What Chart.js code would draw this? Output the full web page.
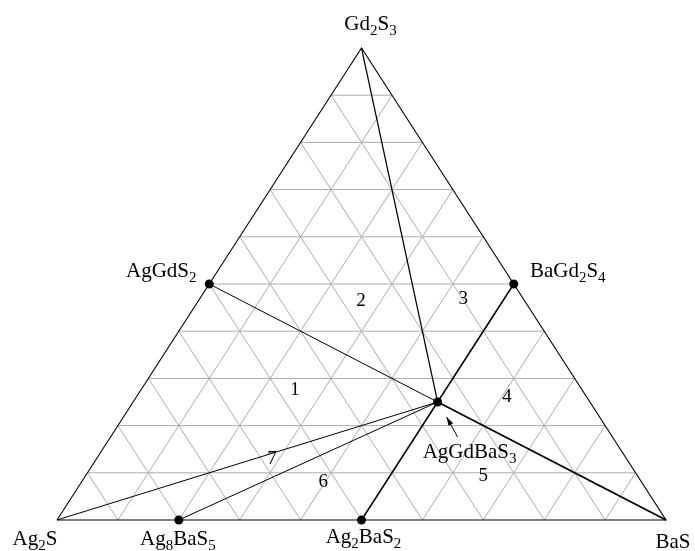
<!DOCTYPE html>
<html>
<head>
<meta charset="utf-8">
<script src="https://cdn.jsdelivr.net/npm/chart.js@4.4.0/dist/chart.umd.min.js"></script>
<style>
  body { margin: 0; background: #fff; }
</style>
</head>
<body>
<canvas id="phaseChart" width="695" height="551"></canvas>
<script>
// phases of the Ag2S - BaS - Gd2S3 system
const phaseNames = ["Ag2S", "BaS", "Gd2S3", "AgGdS2", "BaGd2S4", "Ag8BaS5", "Ag2BaS2", "AgGdBaS3"];
// mole fractions of each corner compound
const phaseAg2S  = [1, 0, 0, 0.5, 0,   0.8, 0.5, 0.25];
const phaseBaS   = [0, 1, 0, 0,   0.5, 0.2, 0.5, 0.5];
const phaseGd2S3 = [0, 0, 1, 0.5, 0.5, 0,   0,   0.25];
// which phases get a dot
const dotPhases = [3, 4, 5, 6, 7];
// tie lines (phase index -> phase index)
const tieFrom = [2, 3, 7, 4, 0, 5];
const tieTo   = [7, 7, 1, 6, 7, 7];
// composition grid
const gridSteps = [0.1, 0.2, 0.3, 0.4, 0.5, 0.6, 0.7, 0.8, 0.9];
// phase field numbers, placed on the plot's unit scales
const fieldNums = ["1", "2", "3", "4", "5", "6", "7"];
const fieldX = [0.391, 0.499, 0.667, 0.739, 0.700, 0.437, 0.353];
const fieldY = [0.275, 0.464, 0.468, 0.261, 0.093, 0.081, 0.129];

// ternary -> plot coords (Ag2S left, BaS right, Gd2S3 top)
function tern(a, b, g) {
  return { x: b + g / 2, y: g };
}
function phasePt(i) {
  return tern(phaseAg2S[i], phaseBaS[i], phaseGd2S3[i]);
}

const datasets = [];

// grey grid lines, parallel to each side
gridSteps.forEach(t => {
  const segs = [
    [tern(1 - t, 0, t), tern(0, 1 - t, t)],   // constant Gd2S3
    [tern(0, t, 1 - t), tern(1 - t, t, 0)],   // constant BaS
    [tern(t, 0, 1 - t), tern(t, 1 - t, 0)]    // constant Ag2S
  ];
  segs.forEach(s => datasets.push({
    type: 'line', data: s, showLine: true, pointRadius: 0,
    borderColor: '#adadad', borderWidth: 1, order: 3
  }));
});

// triangle outline
datasets.push({
  type: 'line', data: [phasePt(0), phasePt(1), phasePt(2), phasePt(0)],
  showLine: true, pointRadius: 0, borderColor: '#000', borderWidth: 1.1, order: 2
});

// tie lines
const tieWidth = [1.2, 1, 1.8, 1.5, 1, 1];
tieFrom.forEach((f, k) => {
  datasets.push({
    type: 'line', data: [phasePt(f), phasePt(tieTo[k])], showLine: true,
    pointRadius: 0, borderColor: '#000', borderWidth: tieWidth[k], order: 1
  });
});

// phase dots
datasets.push({
  type: 'scatter', data: dotPhases.map(phasePt),
  pointRadius: 4.5, pointBackgroundColor: '#000', pointBorderWidth: 0, order: 0
});

// text offsets (px) from each phase point, centre of the label / baseline
const labelDx = [-22, 7, 9, -48, 54, -1, 2, 32];
const labelDy = [25, 28, -18, -7, -7, 25, 23, 56];

function drawFormula(ctx, text, x, y) {
  const parts = text.match(/[A-Za-z]+|\d+/g);
  const big = '21px "Liberation Serif"';
  const small = '15px "Liberation Serif"';
  let w = 0;
  parts.forEach(p => {
    ctx.font = /\d/.test(p) ? small : big;
    w += ctx.measureText(p).width;
  });
  let cx = x - w / 2;
  parts.forEach(p => {
    const sub = /\d/.test(p);
    ctx.font = sub ? small : big;
    ctx.fillText(p, cx, sub ? y + 5 : y);
    cx += ctx.measureText(p).width;
  });
}

const labelPlugin = {
  id: 'labels',
  beforeDraw(chart) {
    const ctx = chart.ctx;
    ctx.save();
    ctx.fillStyle = '#fff';
    ctx.fillRect(0, 0, chart.width, chart.height);
    ctx.restore();
  },
  afterDatasetsDraw(chart) {
    const ctx = chart.ctx;
    const xs = chart.scales.x, ys = chart.scales.y;
    ctx.save();
    ctx.fillStyle = '#000';
    ctx.textAlign = 'left';
    ctx.textBaseline = 'alphabetic';
    phaseNames.forEach((name, i) => {
      const p = phasePt(i);
      drawFormula(ctx, name, xs.getPixelForValue(p.x) + labelDx[i], ys.getPixelForValue(p.y) + labelDy[i]);
    });

    ctx.font = '19px "Liberation Serif"';
    ctx.textAlign = 'center';
    ctx.textBaseline = 'middle';
    fieldNums.forEach((n, i) => {
      ctx.fillText(n, xs.getPixelForValue(fieldX[i]), ys.getPixelForValue(fieldY[i]));
    });

    // arrow pointing at AgGdBaS3
    const q = phasePt(7);
    const px = xs.getPixelForValue(q.x), py = ys.getPixelForValue(q.y);
    const tx = px + 20, ty = py + 35, hx = px + 9, hy = py + 15;
    ctx.strokeStyle = '#000';
    ctx.lineWidth = 1;
    ctx.beginPath();
    ctx.moveTo(tx, ty);
    ctx.lineTo(hx, hy);
    ctx.stroke();
    const ang = Math.atan2(hy - ty, hx - tx);
    ctx.beginPath();
    ctx.moveTo(hx, hy);
    ctx.lineTo(hx - 9 * Math.cos(ang - 0.3), hy - 9 * Math.sin(ang - 0.3));
    ctx.lineTo(hx - 9 * Math.cos(ang + 0.3), hy - 9 * Math.sin(ang + 0.3));
    ctx.closePath();
    ctx.fill();
    ctx.restore();
  }
};

new Chart(document.getElementById('phaseChart'), {
  type: 'scatter',
  data: { datasets: datasets },
  options: {
    responsive: false,
    animation: false,
    layout: { padding: { left: 57, right: 29, top: 48, bottom: 31 } },
    scales: {
      x: { type: 'linear', min: 0, max: 1, display: false },
      y: { type: 'linear', min: 0, max: 1, display: false }
    },
    plugins: { legend: { display: false }, tooltip: { enabled: false } },
    elements: { line: { tension: 0 } },
    clip: false
  },
  plugins: [labelPlugin]
});
</script>
</body>
</html>
